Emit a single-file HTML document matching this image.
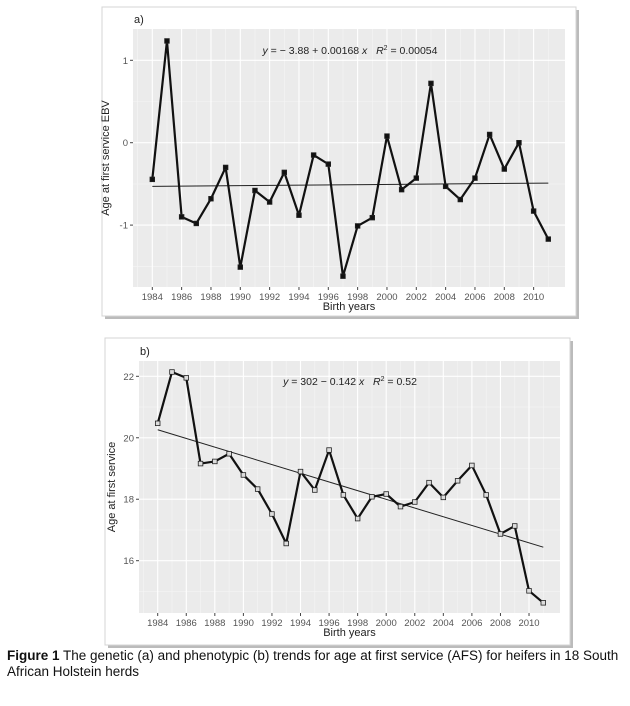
<!DOCTYPE html>
<html><head><meta charset="utf-8"><style>
body{margin:0;background:#fff;width:630px;height:706px;overflow:hidden;font-family:"Liberation Sans",Arial,sans-serif}
svg{position:absolute;left:0;top:0}
#cap{position:absolute;left:7px;top:648px;font-size:13.5px;line-height:16px;color:#111;width:620px;white-space:nowrap}
</style></head><body>
<svg id="chart" width="630" height="706"></svg>
<div id="cap"><b>Figure 1</b> The genetic (a) and phenotypic (b) trends for age at first service (AFS) for heifers in 18 South<br>African Holstein herds</div>
<script>
const years=[1984,1985,1986,1987,1988,1989,1990,1991,1992,1993,1994,1995,1996,1997,1998,1999,2000,2001,2002,2003,2004,2005,2006,2007,2008,2009,2010,2011];
const ebv=[-0.445,1.235,-0.90,-0.98,-0.68,-0.30,-1.51,-0.58,-0.72,-0.36,-0.88,-0.15,-0.26,-1.62,-1.01,-0.91,0.08,-0.57,-0.43,0.72,-0.53,-0.69,-0.43,0.10,-0.32,0.0,-0.83,-1.17];
const afs=[20.47,22.14,21.95,19.16,19.23,19.48,18.79,18.33,17.52,16.56,18.90,18.30,19.60,18.14,17.37,18.08,18.17,17.76,17.91,18.54,18.06,18.60,19.10,18.14,16.87,17.13,15.02,14.63];
const trendA=[-0.53,-0.49];
const trendB=[20.26,16.44];
const xTicks=[1984,1986,1988,1990,1992,1994,1996,1998,2000,2002,2004,2006,2008,2010];
const yTicksA=[-1,0,1];
const yTicksB=[16,18,20,22];
const NS="http://www.w3.org/2000/svg";
const svg=document.getElementById('chart');
function mk(tag,attrs,parent,txt){const e=document.createElementNS(NS,tag);for(const k in attrs)e.setAttribute(k,attrs[k]);if(txt!==undefined)e.textContent=txt;(parent||svg).appendChild(e);return e;}
function panel(cfg){
  const g=mk('g',{});
  
  
  const sh=mk('rect',{x:cfg.fx+3,y:cfg.fy+3,width:cfg.fw,height:cfg.fh,fill:'#bbb'},g);
  
  const fr=mk('rect',{x:cfg.fx,y:cfg.fy,width:cfg.fw,height:cfg.fh,fill:'#fff',stroke:'#d4d4d4'},g);
  
  const bg=mk('rect',{x:cfg.px0,y:cfg.py0,width:cfg.px1-cfg.px0,height:cfg.py1-cfg.py0,fill:'#ebebeb'},g);
  
  const xs=v=>cfg.x0+(v-1984)*(cfg.x1-cfg.x0)/27;
  const ys=v=>cfg.ya+(v-cfg.va)*(cfg.yb-cfg.ya)/(cfg.vb-cfg.va);
  for(let y=1983;y<=2012;y+=2){const X=xs(y);if(X>cfg.px0&&X<cfg.px1){const l=mk('line',{x1:X,x2:X,y1:cfg.py0,y2:cfg.py1,stroke:'#f5f5f5','stroke-width':0.6},g);}}
  cfg.minorY.forEach(v=>{const Y=ys(v);const l=mk('line',{x1:cfg.px0,x2:cfg.px1,y1:Y,y2:Y,stroke:'#f5f5f5','stroke-width':0.6},g);});
  xTicks.forEach(t=>{const X=xs(t);const l=mk('line',{x1:X,x2:X,y1:cfg.py0,y2:cfg.py1,stroke:'#fff','stroke-width':1.1},g);
    const tk=mk('line',{x1:X,x2:X,y1:cfg.py1,y2:cfg.py1+3,stroke:'#444'},g);
    const tx=mk('text',{x:X,y:cfg.py1+13,'font-size':9.5,fill:'#555','text-anchor':'middle'},g,t);});
  cfg.yTicks.forEach(t=>{const Y=ys(t);const l=mk('line',{x1:cfg.px0,x2:cfg.px1,y1:Y,y2:Y,stroke:'#fff','stroke-width':1.1},g);
    const tk=mk('line',{x1:cfg.px0-3,x2:cfg.px0,y1:Y,y2:Y,stroke:'#444'},g);
    const tx=mk('text',{x:cfg.px0-5,y:Y+3.5,'font-size':9.5,fill:'#555','text-anchor':'end'},g,t);});
  const tl=mk('line',{x1:xs(1984),x2:xs(2011),y1:ys(cfg.trend[0]),y2:ys(cfg.trend[1]),stroke:'#222','stroke-width':1},g);
  
  const pts=cfg.vals.map((v,i)=>xs(years[i])+','+ys(v)).join(' ');
  const pl=mk('polyline',{points:pts,fill:'none',stroke:'#111','stroke-width':2.2,'stroke-linejoin':'round'},g);
  
  cfg.vals.forEach((v,i)=>{const r=mk('rect',{x:xs(years[i])-2.3,y:ys(v)-2.3,width:4.6,height:4.6,fill:cfg.filled?'#111':'#ddd',stroke:'#222','stroke-width':0.8},g);});
  const xt=mk('text',{x:(cfg.px0+cfg.px1)/2,y:cfg.py1+23,'font-size':11,fill:'#222','text-anchor':'middle'},g,'Birth years');
  const yx=cfg.px0-24,yy=(cfg.py0+cfg.py1)/2;
  const yt=mk('text',{x:yx,y:yy,'font-size':11,fill:'#222','text-anchor':'middle',transform:`rotate(-90 ${yx} ${yy})`},g,cfg.ytitle);
  const lb=mk('text',{x:cfg.px0+1,y:cfg.py0-6,'font-size':11,fill:'#222'},g,cfg.label);
  const eq=mk('text',{x:cfg.eqx,y:cfg.eqy,'font-size':10.5,fill:'#222','text-anchor':'middle',style:'white-space:pre'},g);
  
  eq.innerHTML=cfg.eq;
}
panel({name:'panel-a',fx:102,fy:7,fw:474,fh:309,px0:133,px1:565,py0:29,py1:287,x0:152.3,x1:548.3,va:0,ya:142.7,vb:1,yb:60.3,
  yTicks:yTicksA,minorY:[-1.5,-0.5,0.5],vals:ebv,trend:trendA,filled:true,ytitle:'Age at first service EBV',label:'a)',eqx:350,eqy:54,
  eq:'<tspan font-style="italic">y</tspan> = − 3.88 + 0.00168 <tspan font-style="italic">x</tspan>   <tspan font-style="italic">R</tspan><tspan font-size="7" dy="-4">2</tspan><tspan dy="4"> = 0.00054</tspan>'});
panel({name:'panel-b',fx:105,fy:338,fw:465,fh:307,px0:139,px1:560,py0:361,py1:613,x0:157.7,x1:543.3,va:22,ya:376.3,vb:16,yb:560.7,
  yTicks:yTicksB,minorY:[15,17,19,21],vals:afs,trend:trendB,filled:false,ytitle:'Age at first service',label:'b)',eqx:350,eqy:385,
  eq:'<tspan font-style="italic">y</tspan> = 302 − 0.142 <tspan font-style="italic">x</tspan>   <tspan font-style="italic">R</tspan><tspan font-size="7" dy="-4">2</tspan><tspan dy="4"> = 0.52</tspan>'});
</script>
</body></html>
